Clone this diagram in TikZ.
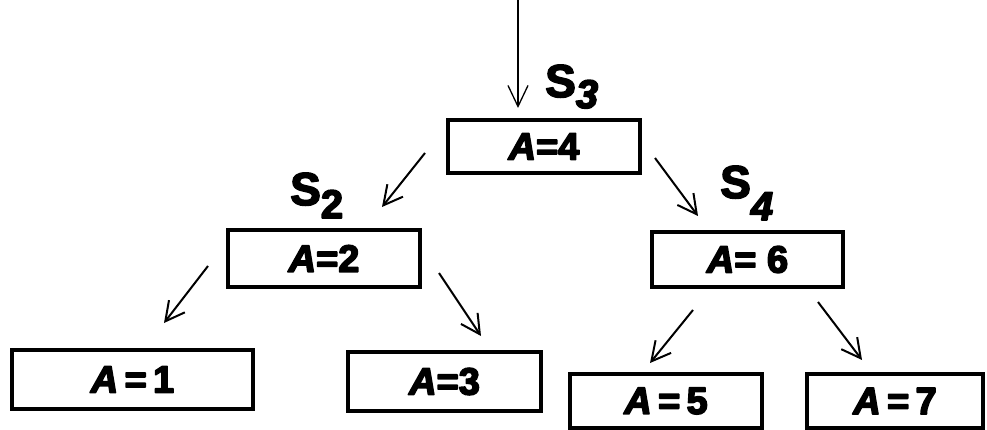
\documentclass[tikz,border=0pt]{standalone}
\usepackage{fontspec}
\setmainfont{Liberation Sans}
\usetikzlibrary{arrows.meta}
\newcommand\heavytxt[1]{\special{pdf:literal direct 1 j 2 Tr 1.6 w}#1\special{pdf:literal direct 0 Tr}}
\begin{document}
\begin{tikzpicture}[x=1pt,y=-1pt,
  valbox/.style={draw,line width=3.2pt,rectangle,inner sep=0pt,outer sep=0pt,
    font=\fontsize{38}{38}\selectfont\bfseries},
  slabel/.style={anchor=base west,inner sep=0pt,font=\fontsize{46}{46}\selectfont\bfseries},
  arr/.style={line width=2pt,-{Straight Barb[length=19pt,width=20pt,line width=2pt]}}]
\useasboundingbox (0,0) rectangle (987,430);
% boxes
\node[valbox,minimum width=192pt,minimum height=53pt] (b4) at (544,146.5) {\heavytxt{\textit{A}=4}};
\node[valbox,minimum width=192pt,minimum height=57pt] (b2) at (324,258.5) {\heavytxt{\textit{A}=2}};
\node[valbox,minimum width=191pt,minimum height=55pt] (b6) at (747.5,259.5) {\heavytxt{\textit{A}= 6}};
\node[valbox,minimum width=241pt,minimum height=59pt] (b1) at (132.5,379.5) {\heavytxt{\textit{A}\,=\,1}};
\node[valbox,minimum width=193pt,minimum height=59pt] (b3) at (444.5,381.5) {\heavytxt{\textit{A}=3}};
\node[valbox,minimum width=192pt,minimum height=54pt] (b5) at (666,401) {\heavytxt{\textit{A}\,=\,5}};
\node[valbox,minimum width=176pt,minimum height=54pt] (b7) at (895,401) {\heavytxt{\textit{A}\,=\,7}};
% labels
\node[slabel] (s3) at (545,97) {\heavytxt{S\raisebox{-11pt}{\fontsize{40}{40}\selectfont\textit{3}}}};
\node[slabel] (s2) at (290,205) {\heavytxt{S\raisebox{-13pt}{\fontsize{40}{40}\selectfont 2}}};
\node[slabel] (s4) at (720,198) {\heavytxt{S\raisebox{-22pt}{\fontsize{40}{40}\selectfont\textit{4}}}};
% arrow end points
\coordinate (t0) at (518,0);
\coordinate (t1) at (518,108);
\coordinate (l0) at (425,153);
\coordinate (l1) at (382,207);
\coordinate (r0) at (655,158);
\coordinate (r1) at (698,216);
\coordinate (ll0) at (208,266);
\coordinate (ll1) at (164,323);
\coordinate (lr0) at (439,273);
\coordinate (lr1) at (481,336);
\coordinate (rl0) at (693,310);
\coordinate (rl1) at (650,363);
\coordinate (rr0) at (818,302);
\coordinate (rr1) at (862,360);
\draw[line width=1.3pt,-{Straight Barb[length=21pt,width=20pt,line width=1.3pt]}] (t0) -- (t1);
\draw[arr] (l0) -- (l1);
\draw[arr] (r0) -- (r1);
\draw[arr] (ll0) -- (ll1);
\draw[arr] (lr0) -- (lr1);
\draw[arr] (rl0) -- (rl1);
\draw[arr] (rr0) -- (rr1);
\end{tikzpicture}
\end{document}
